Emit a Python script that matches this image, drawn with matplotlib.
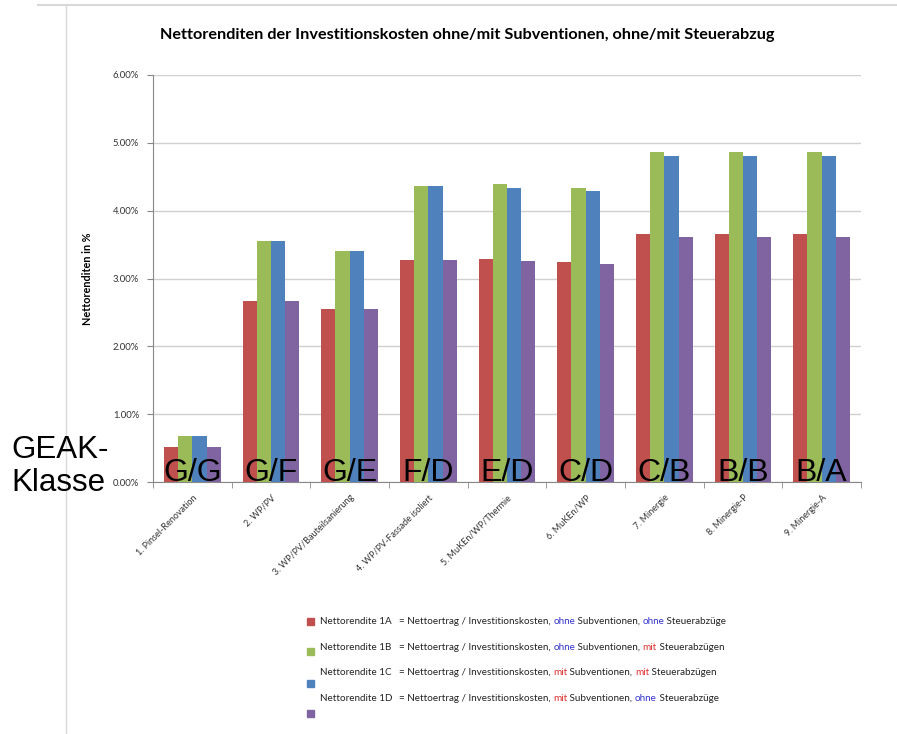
import numpy as np
import matplotlib
matplotlib.use('Agg')
import matplotlib.pyplot as plt
from matplotlib.patches import Rectangle
from matplotlib.lines import Line2D

plt.rcParams['font.family'] = ['Lato', 'DejaVu Sans']

# data (Nettorendite in %)
categories = ['1. Pinsel-Renovation', '2. WP/PV', '3. WP/PV/Bauteilsanierung',
              '4. WP/PV-Fassade isoliert', '5. MuKEn/WP/Thermie', '6. MuKEn/WP',
              '7. Minergie', '8. Minergie-P', '9. Minergie-A']
geak = ['G/G', 'G/F', 'G/E', 'F/D', 'E/D', 'C/D', 'C/B', 'B/B', 'B/A']
rendite_1a = [0.51, 2.67, 2.55, 3.28, 3.29, 3.25, 3.65, 3.65, 3.65]
rendite_1b = [0.68, 3.56, 3.40, 4.37, 4.40, 4.34, 4.86, 4.86, 4.86]
rendite_1c = [0.68, 3.56, 3.40, 4.37, 4.34, 4.29, 4.81, 4.81, 4.81]
rendite_1d = [0.51, 2.67, 2.55, 3.28, 3.26, 3.22, 3.61, 3.61, 3.61]
series_names = ['Nettorendite 1A', 'Nettorendite 1B', 'Nettorendite 1C', 'Nettorendite 1D']
yticks = [0, 1, 2, 3, 4, 5, 6]

colors = ['#C0504D', '#9BBB59', '#4F81BD', '#8064A2']
series = [rendite_1a, rendite_1b, rendite_1c, rendite_1d]

W, H = 897, 734
fig = plt.figure(figsize=(W / 100, H / 100), dpi=100)

def fx(px):
    return px / W

def fy(py):
    return 1 - py / H

ax = fig.add_axes([fx(153), fy(482), fx(861) - fx(153), fy(75) - fy(482)])

x = np.arange(len(categories))
bw = 0.181
for i, (vals, col) in enumerate(zip(series, colors)):
    ax.bar(x + (i - 1.5) * bw, vals, bw, color=col, zorder=3)

ax.set_xlim(-0.5, len(categories) - 0.5)
ax.set_ylim(0, 6)
ax.set_yticks(yticks)
ax.set_yticklabels(['%.2f%%' % v for v in yticks], fontsize=6.8, color='#333333')
ax.yaxis.grid(True, color='#d0d0d0', linewidth=1, zorder=0)
ax.tick_params(axis='y', length=4, color='#888888', pad=6)

ax.set_xticks(x)
ax.set_xticklabels(categories, rotation=45, ha='right', rotation_mode='anchor',
                   fontsize=6.5, color='#333333')
ax.tick_params(axis='x', length=0, pad=8)
ax.set_xticks(np.arange(-0.5, len(categories) + 0.5, 1), minor=True)
ax.tick_params(axis='x', which='minor', length=4, color='#888888')

for s in ['top', 'right']:
    ax.spines[s].set_visible(False)
ax.spines['left'].set_color('#888888')
ax.spines['bottom'].set_color('#888888')

ax.set_ylabel('Nettorenditen in %', fontsize=7.8, fontweight='bold', labelpad=14)

fig.text(fx(467), fy(35), 'Nettorenditen der Investitionskosten ohne/mit Subventionen, ohne/mit Steuerabzug',
         ha='center', va='center', fontsize=11.7, fontweight='bold')

# GEAK labels
for xi, g in zip(x, geak):
    ax.text(xi, 0.02, g, ha='center', va='baseline', fontsize=23,
            family='Liberation Sans', zorder=5)
fig.text(fx(11), fy(458), 'GEAK-', fontsize=22.5, family='Liberation Sans', va='baseline')
fig.text(fx(11), fy(491), 'Klasse', fontsize=22.5, family='Liberation Sans', va='baseline')

# chart frame
fig.add_artist(Line2D([fx(38), 1], [fy(5), fy(5)], color='#d8d8d8', lw=1.5))
fig.add_artist(Line2D([fx(66), fx(66)], [fy(5), 0], color='#d8d8d8', lw=1))

# legend with coloured words
blue_w = '#3333cc'
red_w = '#e03030'
dark = '#222222'
legend_parts = [
    [('= Nettoertrag / Investitionskosten, ', dark), ('ohne', blue_w), (' Subventionen, ', dark),
     ('ohne', blue_w), (' Steuerabzüge', dark)],
    [('= Nettoertrag / Investitionskosten, ', dark), ('ohne', blue_w), (' Subventionen, ', dark),
     ('mit', red_w), (' Steuerabzügen', dark)],
    [('= Nettoertrag / Investitionskosten, ', dark), ('mit', red_w), (' Subventionen, ', dark),
     ('mit', red_w), (' Steuerabzügen', dark)],
    [('= Nettoertrag / Investitionskosten, ', dark), ('mit', red_w), (' Subventionen, ', dark),
     ('ohne', blue_w), (' Steuerabzüge', dark)],
]
text_y = [624, 650, 675, 701]
mark_y = [621, 651, 683, 713]
fs = 7.1
renderer = fig.canvas.get_renderer()
for name, col, parts, ty, my in zip(series_names, colors, legend_parts, text_y, mark_y):
    fig.add_artist(Rectangle((fx(307), fy(my + 3.5)), fx(7), 7 / H, transform=fig.transFigure,
                             color=col))
    fig.text(fx(320), fy(ty), name, fontsize=fs, va='baseline', color=dark)
    xpos = 399
    for s, c in parts:
        t = fig.text(fx(xpos), fy(ty), s, fontsize=fs, va='baseline', color=c)
        xpos = t.get_window_extent(renderer).x1

fig.savefig('out.png', dpi=100)
